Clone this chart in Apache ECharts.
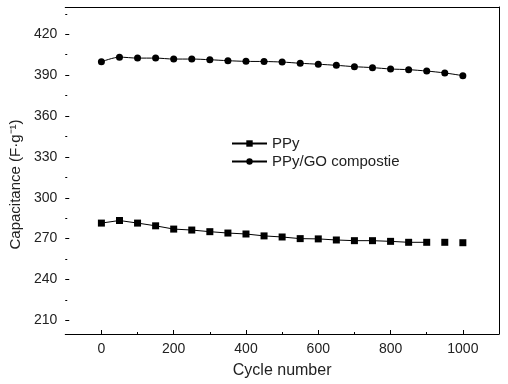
<!DOCTYPE html>
<html>
<head>
<meta charset="utf-8">
<script src="https://cdn.jsdelivr.net/npm/echarts@6/dist/echarts.min.js"></script>
<style>
    html, body { margin: 0; padding: 0; background: #fff; }
    #chart { width: 508px; height: 384px; }
</style>
</head>
<body>
<div id="chart"></div>
<script>
    // cycle numbers and capacitance values (F/g)
    const cycles = [0, 50, 100, 150, 200, 250, 300, 350, 400, 450, 500,
        550, 600, 650, 700, 750, 800, 850, 900, 950, 1000]
    const ppy = [281.4, 283.3, 281.4, 279.4, 277, 276.3, 275.1, 274.1, 273.4, 272, 271.2,
        270, 269.8, 269, 268.5, 268.5, 268, 267.3, 267.3, 267.3, 267]
    const ppyGo = [399.8, 403.2, 402.5, 402.5, 401.8, 401.8, 401.3, 400.6, 400.1, 400, 399.6,
        398.7, 398, 397.2, 396.2, 395.5, 394.5, 394, 393, 391.6, 389.6]
    // PPy line is only drawn up to this cycle, later points are markers only
    const ppyLineEnd = 900

    const xLabels = [0, 200, 400, 600, 800, 1000]
    const xMinor = [100, 300, 500, 700, 900]
    const yLabels = [210, 240, 270, 300, 330, 360, 390, 420]
    const yMinor = [225, 255, 285, 315, 345, 375, 405, 435]

    const font = 'Liberation Sans, Arial, sans-serif'
    const ink = '#000'
    const textColor = '#222'

    const ppyLine = []
    const ppyTail = []
    cycles.forEach((c, i) => {
        if (c <= ppyLineEnd) ppyLine.push([c, ppy[i]])
        else ppyTail.push([c, ppy[i]])
    })
    const goData = cycles.map((c, i) => [c, ppyGo[i]])

    const xBase = { type: 'value', min: -100, max: 1100, splitLine: { show: false } }
    const yBase = { type: 'value', min: 200, max: 440, splitLine: { show: false } }

    const chart = echarts.init(document.getElementById('chart'))
    chart.setOption({
        animation: false,
        backgroundColor: '#fff',
        grid: { left: 58, right: 9, top: 7, bottom: 48 },
        legend: {
            orient: 'vertical',
            left: 231,
            top: 136,
            padding: 0,
            itemWidth: 35,
            itemHeight: 8,
            itemGap: 3,
            data: ['PPy', 'PPy/GO compostie'],
            textStyle: { fontFamily: font, fontSize: 15, color: textColor }
        },
        xAxis: [
            Object.assign({}, xBase, {
                position: 'bottom',
                name: 'Cycle number',
                nameLocation: 'middle',
                nameGap: 29,
                nameTextStyle: { fontFamily: font, fontSize: 16, color: textColor },
                axisLine: { onZero: false, lineStyle: { color: ink, width: 1 } },
                axisTick: { inside: true, length: 4, customValues: xLabels, lineStyle: { color: ink } },
                axisLabel: {
                    customValues: xLabels, margin: 8, fontFamily: font, fontSize: 14, color: textColor,
                    formatter: v => String(v)
                }
            }),
            Object.assign({}, xBase, {
                position: 'bottom',
                axisLine: { show: false, onZero: false },
                axisTick: { inside: true, length: 2, customValues: xMinor, lineStyle: { color: ink } },
                axisLabel: { show: false }
            }),
            Object.assign({}, xBase, {
                position: 'top',
                axisLine: { onZero: false, lineStyle: { color: ink, width: 1 } },
                axisTick: { show: false },
                axisLabel: { show: false }
            })
        ],
        yAxis: [
            Object.assign({}, yBase, {
                position: 'left',
                name: 'Capacitance (F·g⁻¹)',
                nameLocation: 'middle',
                nameGap: 40,
                nameTextStyle: { fontFamily: font, fontSize: 15, color: textColor, padding: [0, 28, 0, 0] },
                axisLine: { show: false, onZero: false },
                axisTick: { inside: true, length: 4, customValues: yLabels, lineStyle: { color: ink } },
                axisLabel: { customValues: yLabels, margin: 8, fontFamily: font, fontSize: 14, color: textColor }
            }),
            Object.assign({}, yBase, {
                position: 'left',
                axisLine: { show: false, onZero: false },
                axisTick: { inside: true, length: 2, customValues: yMinor, lineStyle: { color: ink } },
                axisLabel: { show: false }
            }),
            Object.assign({}, yBase, {
                position: 'right',
                axisLine: { show: true, onZero: false, lineStyle: { color: ink, width: 1 } },
                axisTick: { show: false },
                axisLabel: { show: false }
            })
        ],
        series: [
            {
                name: 'PPy',
                type: 'line',
                data: ppyLine,
                symbol: 'rect',
                symbolSize: 7,
                itemStyle: { color: ink },
                lineStyle: { color: ink, width: 1 }
            },
            {
                name: 'PPy tail',
                type: 'scatter',
                data: ppyTail,
                symbol: 'rect',
                symbolSize: 7,
                itemStyle: { color: ink, opacity: 1 }
            },
            {
                name: 'PPy/GO compostie',
                type: 'line',
                data: goData,
                smooth: 0.3,
                symbol: 'circle',
                symbolSize: 7,
                itemStyle: { color: ink },
                lineStyle: { color: ink, width: 1 }
            }
        ]
    })
</script>
</body>
</html>
